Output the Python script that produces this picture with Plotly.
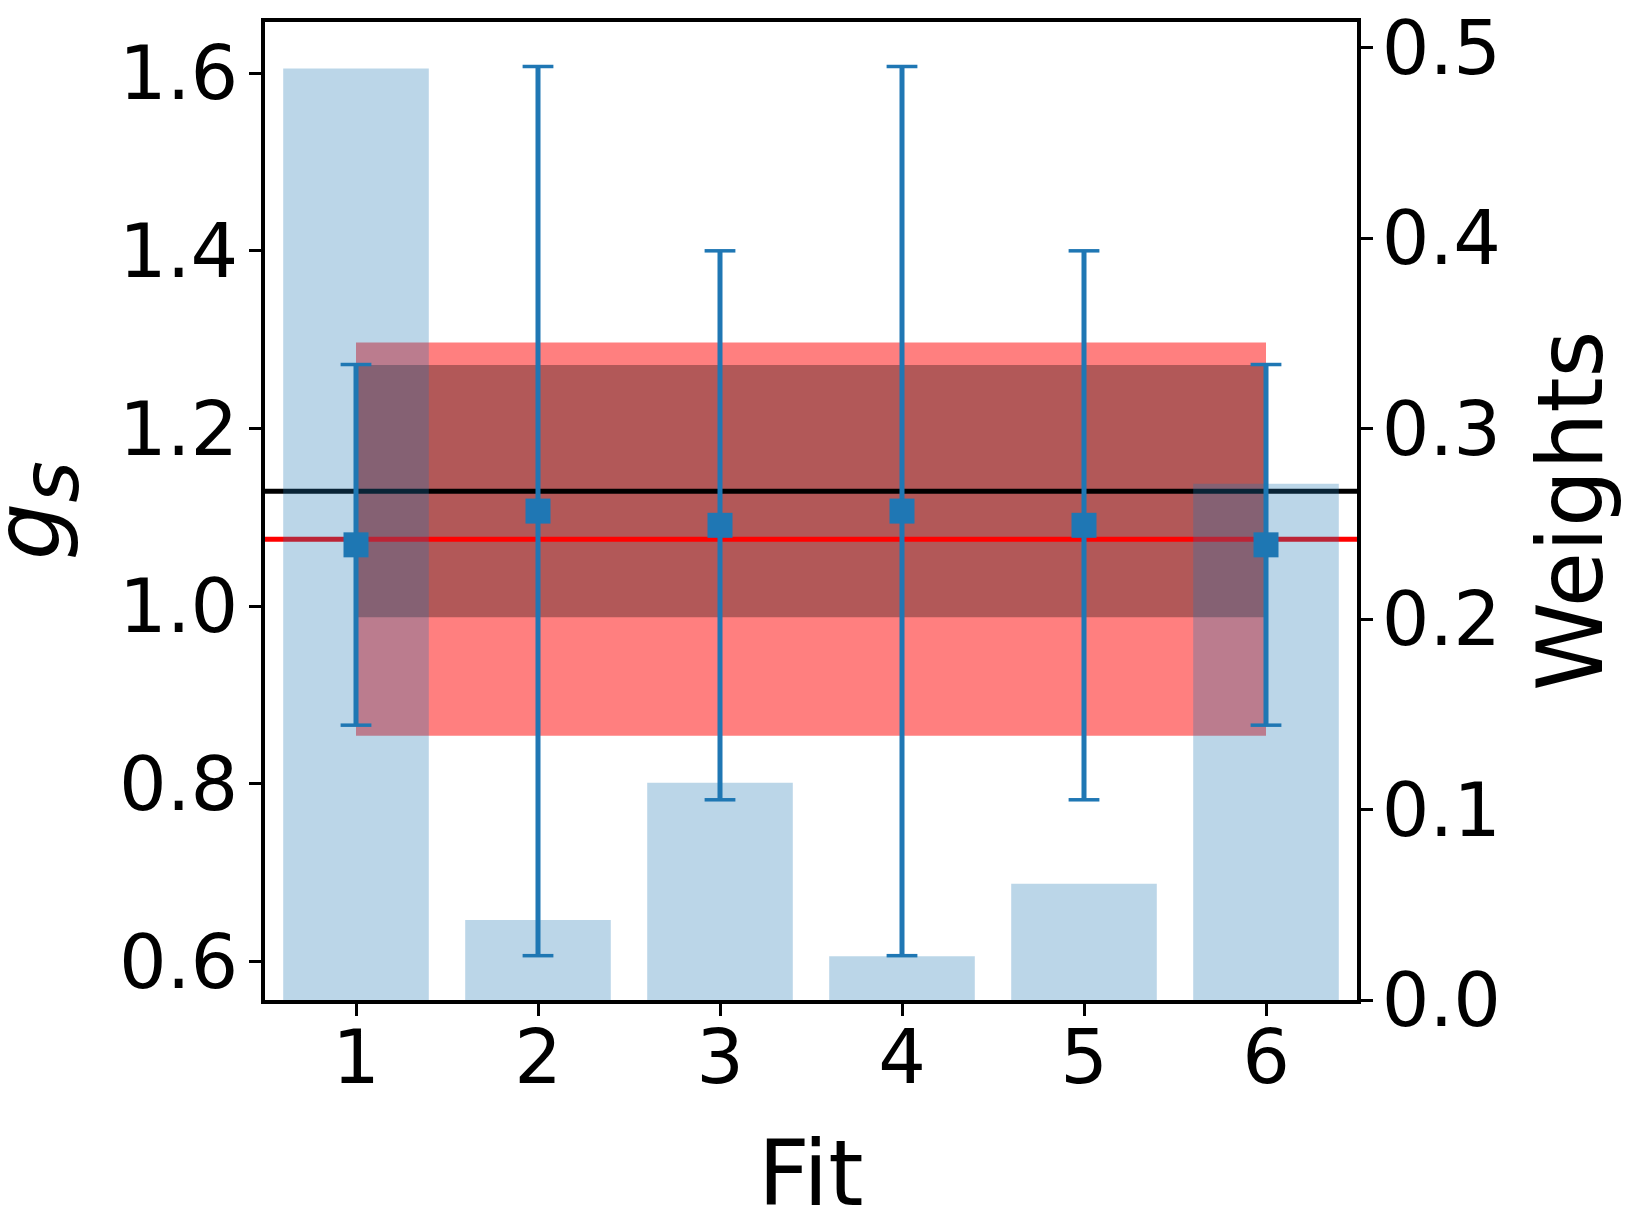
import plotly.graph_objects as go

# Fit index, per-fit g_s estimates with symmetric uncertainties, and fit weights
FITS = [1, 2, 3, 4, 5, 6]
G_S = [1.069, 1.107, 1.091, 1.107, 1.091, 1.069]
G_S_ERR = [0.203, 0.5005, 0.309, 0.5005, 0.309, 0.203]
WEIGHTS = [0.489, 0.042, 0.114, 0.023, 0.061, 0.271]

# Weighted model average (red) and reference value (black) with their bands
AVG = 1.0754
AVG_ERR = 0.2214
REF = 1.1294
REF_ERR = 0.142

X_RANGE = [0.5, 6.5]
Y_TICKS = [0.6, 0.8, 1.0, 1.2, 1.4, 1.6]
W_TICKS = [0.0, 0.1, 0.2, 0.3, 0.4, 0.5]

X_TITLE = "Fit"
Y_TITLE = "<i>g</i><sub><span style='font-size:80px'><i>s</i></span></sub>"
Y2_TITLE = "Weights"

BLUE = "#1f77b4"
FONT = "DejaVu Sans"

fig = go.Figure()

# Uncertainty bands spanning the first to last fit
band_x = [FITS[0], FITS[-1], FITS[-1], FITS[0], FITS[0]]
fig.add_trace(go.Scatter(
    x=band_x,
    y=[AVG - AVG_ERR, AVG - AVG_ERR, AVG + AVG_ERR, AVG + AVG_ERR, AVG - AVG_ERR],
    fill="toself", fillcolor="rgba(255,0,0,0.5)", mode="lines",
    line=dict(width=0), hoverinfo="skip", showlegend=False,
))
fig.add_trace(go.Scatter(
    x=band_x,
    y=[REF - REF_ERR, REF - REF_ERR, REF + REF_ERR, REF + REF_ERR, REF - REF_ERR],
    fill="toself", fillcolor="rgba(0,0,0,0.3)", mode="lines",
    line=dict(width=0), hoverinfo="skip", showlegend=False,
))

# Horizontal reference lines across the whole axis
fig.add_trace(go.Scatter(
    x=X_RANGE, y=[REF, REF], mode="lines",
    line=dict(color="black", width=5), showlegend=False,
))
fig.add_trace(go.Scatter(
    x=X_RANGE, y=[AVG, AVG], mode="lines",
    line=dict(color="red", width=5), showlegend=False,
))

# Per-fit points with error bars
fig.add_trace(go.Scatter(
    x=FITS, y=G_S, mode="markers",
    marker=dict(symbol="square", size=25, color=BLUE),
    error_y=dict(type="data", array=G_S_ERR, color=BLUE, thickness=5, width=0),
    showlegend=False,
))
# Error-bar caps
cap_y = [g + e for g, e in zip(G_S, G_S_ERR)] + [g - e for g, e in zip(G_S, G_S_ERR)]
fig.add_trace(go.Scatter(
    x=FITS + FITS, y=cap_y, mode="markers",
    marker=dict(symbol="line-ew", size=22, color=BLUE, line=dict(color=BLUE, width=3.5)),
    showlegend=False,
))

# Fit weights on the secondary axis
fig.add_trace(go.Bar(
    x=FITS, y=WEIGHTS, width=0.8, yaxis="y2",
    marker=dict(color="rgba(31,119,180,0.3)", line=dict(width=0)),
    showlegend=False,
))

axis_common = dict(
    showline=True, linewidth=3.5, linecolor="black",
    ticks="outside", ticklen=12, tickwidth=3, tickcolor="black",
    showgrid=False, zeroline=False, automargin=False,
    tickfont=dict(family=FONT, size=75, color="black"),
)

title_font = dict(family=FONT, size=90, color="black")

fig.update_layout(
    width=1628, height=1210,
    margin=dict(l=265, r=271, t=22, b=210),
    paper_bgcolor="white", plot_bgcolor="white",
    font=dict(family=FONT, color="black"),
    showlegend=False,
    xaxis=dict(
        range=X_RANGE, tickvals=FITS, mirror=True,
        ticklabelstandoff=-23,
        **axis_common,
    ),
    yaxis=dict(
        range=[0.5566, 1.6576], tickvals=Y_TICKS, tickformat=".1f",
        ticklabelstandoff=-4,
        **axis_common,
    ),
    yaxis2=dict(
        overlaying="y", side="right",
        range=[0, 0.5134], tickvals=W_TICKS, tickformat=".1f",
        ticklabelstandoff=-6,
        **axis_common,
    ),
    annotations=[
        dict(text=X_TITLE, xref="paper", yref="paper", x=0.5, y=0,
             xanchor="center", yanchor="top", yshift=-119,
             showarrow=False, font=title_font),
        dict(text=Y_TITLE, xref="paper", yref="paper", x=0, y=0.5,
             xanchor="center", yanchor="middle", xshift=-229, textangle=-90,
             showarrow=False, font=dict(family=FONT, size=90, color="black")),
        dict(text=Y2_TITLE, xref="paper", yref="paper", x=1, y=0.5,
             xanchor="center", yanchor="middle", xshift=213, textangle=-90,
             showarrow=False, font=title_font),
    ],
)

fig.write_html("out.html")
